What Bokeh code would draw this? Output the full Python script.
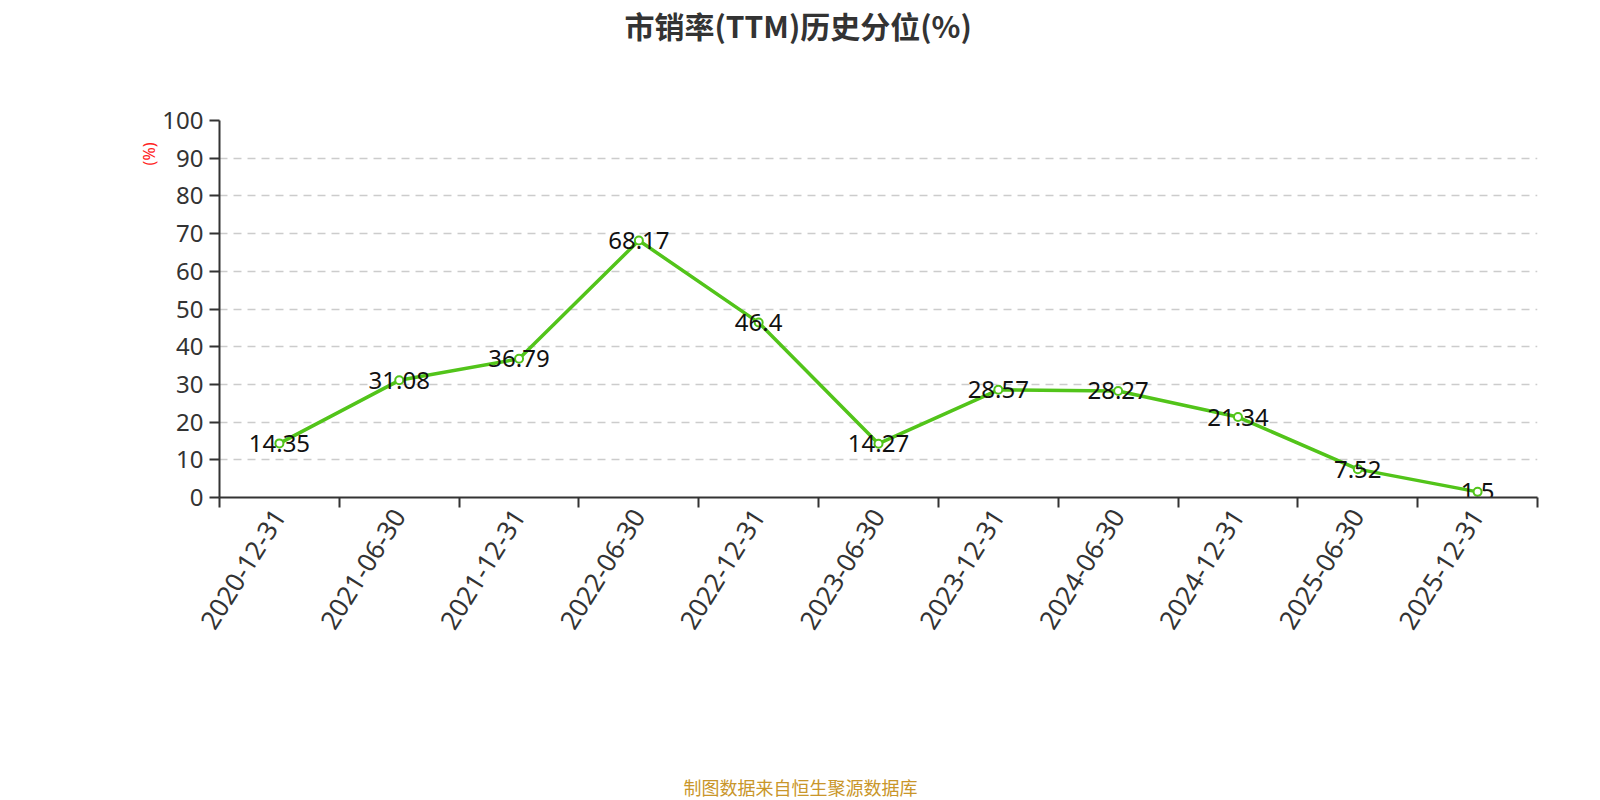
import math
from bokeh.plotting import figure
from bokeh.models import ColumnDataSource, FixedTicker, Range1d, Title, LinearAxis
from bokeh.core.properties import value
from bokeh.embed import file_html
from bokeh.resources import INLINE

categories = ["2020-12-31", "2021-06-30", "2021-12-31", "2022-06-30", "2022-12-31",
              "2023-06-30", "2023-12-31", "2024-06-30", "2024-12-31", "2025-06-30",
              "2025-12-31"]
values = [14.35, 31.08, 36.79, 68.17, 46.4, 14.27, 28.57, 28.27, 21.34, 7.52, 1.5]
labels = ["14.35", "31.08", "36.79", "68.17", "46.4", "14.27", "28.57", "28.27", "21.34", "7.52", "1.5"]
y_ticks = list(range(0, 101, 10))
title_text = "市销率(TTM)历史分位(%)"
source_text = "制图数据来自恒生聚源数据库"
unit_text = "(%)"

xs = [i + 0.5 for i in range(len(categories))]
src = ColumnDataSource(dict(x=xs, y=values, lab=labels))

W, H = 1600, 800
FL, FR, FT, FB = 219, 1537, 120, 497
n = len(categories)
p = figure(width=W, height=H, output_backend="svg", toolbar_location=None,
           x_range=Range1d(0, n), y_range=Range1d(0, 100),
           frame_width=FR - FL, frame_height=FB - FT,
           min_border_left=FL, min_border_right=W - FR, min_border_top=FT,
           min_border_bottom=H - FB)
p.outline_line_color = None
p.background_fill_color = "white"
p.border_fill_color = "white"

FONT = "Noto Sans"
CJK = "Noto Sans CJK SC"

xa = p.xaxis[0]
ya = p.yaxis[0]

# x axis: labels at band centres, ticks at band boundaries
xa.ticker = FixedTicker(ticks=xs, minor_ticks=list(range(n + 1)))
xa.major_label_overrides = {x: c for x, c in zip(xs, categories)}
xa.major_label_orientation = math.radians(58)
xa.major_tick_out = 0
xa.major_tick_in = 0
xa.minor_tick_out = 10
xa.minor_tick_in = 0
xa.minor_tick_line_color = "#333333"
xa.minor_tick_line_width = 2
xa.axis_line_color = "#333333"
xa.axis_line_width = 2
xa.major_label_text_font = FONT
xa.major_label_text_font_size = "26px"
xa.major_label_text_color = "#333333"
xa.major_label_standoff = 4

# y axis
ya.ticker = FixedTicker(ticks=y_ticks)
ya.minor_tick_line_color = None
ya.major_tick_out = 10
ya.major_tick_in = 0
ya.major_tick_line_color = "#333333"
ya.major_tick_line_width = 2
ya.axis_line_color = "#333333"
ya.axis_line_width = 2
ya.major_label_text_font = FONT
ya.major_label_text_font_size = "24px"
ya.major_label_text_color = "#333333"
ya.major_label_standoff = 6


def spacer(size):
    # invisible axis with one hidden tick, used only to reserve room in a side panel
    t = xs[0]
    return LinearAxis(ticker=FixedTicker(ticks=[t], minor_ticks=[]),
                      major_label_overrides={t: ""},
                      axis_line_alpha=0.0, major_tick_line_alpha=0.0,
                      minor_tick_line_alpha=0.0,
                      major_tick_out=size, major_tick_in=0, minor_tick_out=0,
                      major_label_standoff=0, major_label_text_font_size="0px")


p.add_layout(spacer(74), "above")
p.add_layout(Title(text=title_text, align="left", offset=405, standoff=0,
                   text_font=CJK, text_font_size="30px", text_font_style="bold",
                   text_color="#333333"), "above")

p.add_layout(spacer(132), "below")
p.add_layout(Title(text=source_text, align="left", offset=464, standoff=0,
                   text_font=CJK, text_font_size="18px", text_font_style="normal",
                   text_color="#c9962a"), "below")

p.add_layout(Title(text=unit_text, align="right", text_font=FONT, text_font_size="16px",
                   text_font_style="normal", text_color="#ff2222", offset=22,
                   standoff=0), "left")

p.xgrid.grid_line_color = None
p.ygrid.ticker = FixedTicker(ticks=y_ticks[1:])
p.ygrid.grid_line_color = "#cccccc"
p.ygrid.grid_line_width = 1.5
p.ygrid.grid_line_dash = "8 6"

p.line("x", "y", source=src, line_color="#52c41a", line_width=3.5)
p.scatter("x", "y", source=src, size=8, fill_color="white", line_color="#52c41a",
          line_width=2)
p.text("x", "y", text="lab", source=src, text_align="center", text_baseline="middle",
       text_font=value(FONT), text_font_size="24px", text_color="#111111")

open("out.html", "w").write(file_html(p, INLINE))
